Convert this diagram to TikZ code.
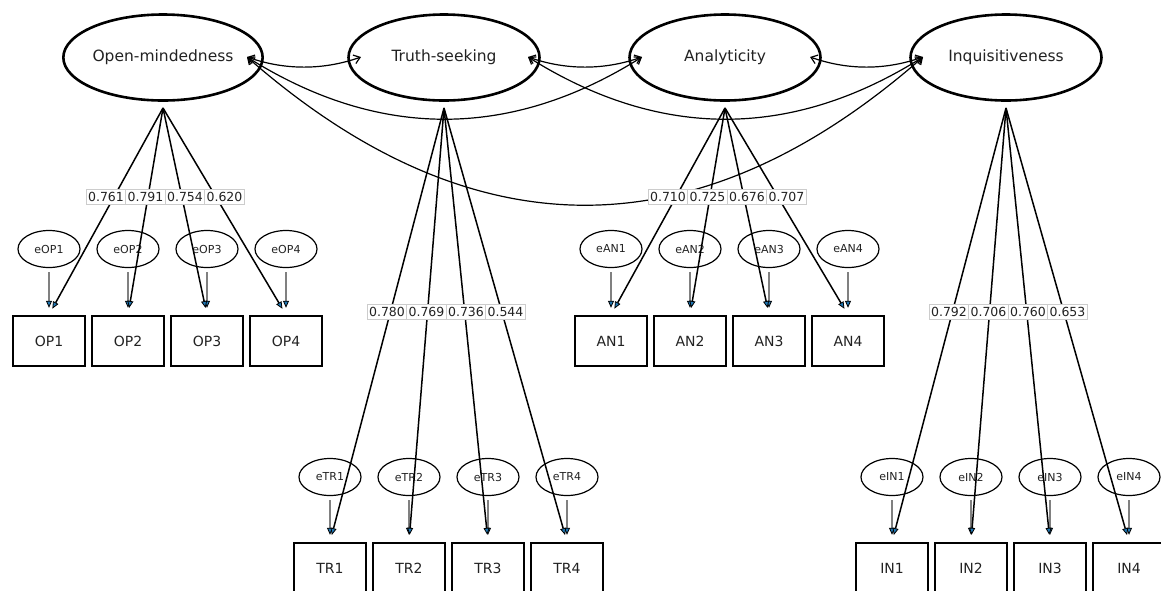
\documentclass[tikz,border=0pt]{standalone}
\usepackage{fontspec}
\setmainfont{DejaVu Sans}
\usetikzlibrary{shapes.geometric,arrows.meta}
\definecolor{headblue}{HTML}{1F77B4}
\definecolor{txt}{HTML}{222222}
\definecolor{labedge}{HTML}{CCCCCC}
\begin{document}
\begin{tikzpicture}[x=1pt,y=-1pt,
  latent/.style={ellipse,draw,line width=2.6pt,minimum width=191pt,minimum height=86pt,inner sep=0pt,font=\fontsize{15.5}{18}\selectfont,text=txt},
  obs/.style={rectangle,draw,line width=2.4pt,minimum width=72pt,minimum height=50pt,inner sep=0pt,font=\fontsize{14}{16}\selectfont,text=txt},
  err/.style={ellipse,draw,line width=1.2pt,minimum width=62pt,minimum height=37pt,inner sep=0pt,font=\fontsize{11}{13}\selectfont,text=txt},
  bluetip/.tip={Triangle[length=7pt,width=6pt,fill=headblue,color=black,line width=0.8pt]},
  load/.style={draw,line width=1.5pt,-bluetip,shorten >=7pt},
  errarrow/.style={draw=gray,line width=1.6pt,-bluetip,shorten <=4pt,shorten >=7pt},
  cov/.style={draw,line width=1.2pt,{Straight Barb[length=6pt,width=9pt,line width=1.2pt]}-{Straight Barb[length=6pt,width=9pt,line width=1.2pt]}},
  lab/.style={fill=white,draw=labedge,line width=0.6pt,inner xsep=2pt,inner ysep=2.5pt,font=\fontsize{12.5}{14}\selectfont,text=txt}
]
\clip (0,0) rectangle (1161,590);

% latent factors
\node[latent] (OM) at (163,57.5) {Open-mindedness};
\node[latent] (TS) at (444,57.5) {Truth-seeking};
\node[latent] (AN) at (725,57.5) {Analyticity};
\node[latent] (IN) at (1006,57.5) {Inquisitiveness};

% apex points of loadings
\coordinate (apexOM) at (163,108);
\coordinate (apexTS) at (444,108);
\coordinate (apexAN) at (725,108);
\coordinate (apexIN) at (1006,108);

% covariance end points
\coordinate (OMr) at (247,57);
\coordinate (TSl) at (361,57);
\coordinate (TSr) at (528,57);
\coordinate (ANl) at (642,57);
\coordinate (ANr) at (810,57);
\coordinate (INl) at (923,57);

% covariances
\draw[cov] (OMr) .. controls +(38,13.3) and +(-38,13.3) .. (TSl);
\draw[cov] (TSr) .. controls +(38,13.3) and +(-38,13.3) .. (ANl);
\draw[cov] (ANr) .. controls +(38,13.3) and +(-38,13.3) .. (INl);
\draw[cov] (OMr) .. controls +(131.7,82.7) and +(-131.7,82.7) .. (ANl);
\draw[cov] (TSr) .. controls +(131.7,82.7) and +(-131.7,82.7) .. (INl);
\draw[cov] (OMr) .. controls +(225.3,197.3) and +(-225.3,197.3) .. (INl);

% indicators, errors, loadings
\foreach \lat/\g/\cx/\by/\ey/\ly/\va/\vb/\vc/\vd in {
  OM/OP/163/341/249/197/0.761/0.791/0.754/0.620,
  TS/TR/444/568/477/312/0.780/0.769/0.736/0.544,
  AN/AN/725/341/249/197/0.710/0.725/0.676/0.707,
  IN/IN/1006/568/477/312/0.792/0.706/0.760/0.653}{
  \foreach \i/\dx in {1/-114,2/-35,3/44,4/123}{
    \node[obs] (\g\i) at (\cx+\dx,\by) {\g\i};
    \node[err] (e\g\i) at (\cx+\dx,\ey) {e\g\i};
    \draw[errarrow] (e\g\i) -- (\g\i);
    \draw[load] (apex\lat) -- (\g\i.north);
  }
  \node[lab] at ({\cx+(-114)/2},\ly) {\va};
  \node[lab] at ({\cx+(-35)/2},\ly) {\vb};
  \node[lab] at ({\cx+44/2},\ly) {\vc};
  \node[lab] at ({\cx+123/2},\ly) {\vd};
}
\end{tikzpicture}
\end{document}
